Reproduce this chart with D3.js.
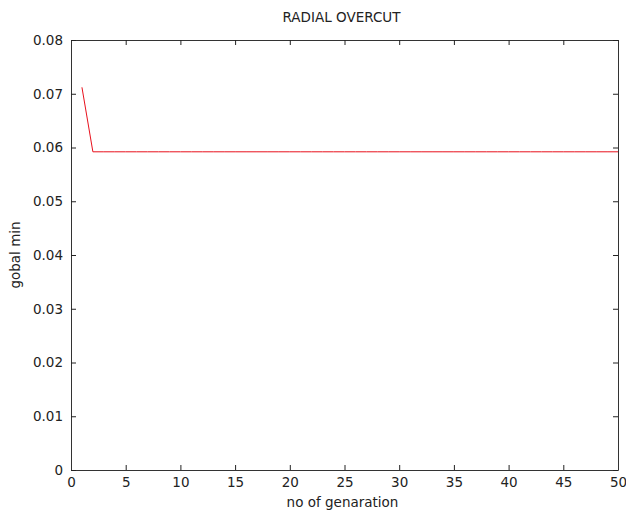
<!DOCTYPE html>
<html><head><meta charset="utf-8">
<script src="https://cdn.jsdelivr.net/npm/d3@7"></script>
<style>body{margin:0;background:#fff}svg{display:block}text{font-family:"DejaVu Sans",sans-serif;font-size:13.5px;fill:#222}</style>
</head><body>
<script>
const generations = d3.range(1, 51);
const globalMin = [0.0712].concat(d3.range(49).map(() => 0.0592));
const xTicks = [0,5,10,15,20,25,30,35,40,45,50];
const yTicks = [0,0.01,0.02,0.03,0.04,0.05,0.06,0.07,0.08];

const W = 626, H = 515;
const m = {left: 71, top: 40, right: 8, bottom: 45};
const svg = d3.select("body").append("svg").attr("width", W).attr("height", H);
const x = d3.scaleLinear().domain([0,50]).range([m.left, W - m.right]);
const y = d3.scaleLinear().domain([0,0.08]).range([H - m.bottom, m.top]);

const fmtY = d => d === 0 ? "0" : d3.format(".2f")(d);
const g = svg.append("g");
const bx = g.append("g").attr("transform", `translate(0,${y(0)})`)
  .call(d3.axisBottom(x).tickValues(xTicks).tickSizeInner(-5).tickSizeOuter(0).tickPadding(7));
g.append("g").attr("transform", `translate(0,${y(0.08)})`)
  .call(d3.axisTop(x).tickValues(xTicks).tickSizeInner(-5).tickSizeOuter(0).tickFormat(""));
g.append("g").attr("transform", `translate(${x(0)},0)`)
  .call(d3.axisLeft(y).tickValues(yTicks).tickSizeInner(-5).tickSizeOuter(0).tickPadding(8).tickFormat(fmtY));
g.append("g").attr("transform", `translate(${x(50)},0)`)
  .call(d3.axisRight(y).tickValues(yTicks).tickSizeInner(-5).tickSizeOuter(0).tickFormat(""));
g.selectAll(".domain").attr("stroke", "#333");
g.selectAll(".tick line").attr("stroke", "#222");
g.selectAll(".tick text").attr("font-size", 13.5).attr("fill", "#222").attr("font-family", "DejaVu Sans, sans-serif");
bx.selectAll(".tick text").attr("dy", "0.71em");

svg.append("path")
  .datum(generations.map((d,i) => [d, globalMin[i]]))
  .attr("fill", "none").attr("stroke", "#e8101c").attr("stroke-width", 1)
  .attr("d", d3.line().x(d => x(d[0])).y(d => y(d[1])));

svg.append("text").attr("x", (x(0)+x(50))/2 - 3).attr("y", 22).attr("text-anchor","middle").text("RADIAL OVERCUT");
svg.append("text").attr("x", (x(0)+x(50))/2 - 2).attr("y", 507).attr("font-size", 13).attr("text-anchor","middle").text("no of genaration");
svg.append("text").attr("transform", `translate(20,${(y(0)+y(0.08))/2}) rotate(-90)`).attr("font-size", 13).attr("text-anchor","middle").text("gobal min");
</script>
</body></html>
